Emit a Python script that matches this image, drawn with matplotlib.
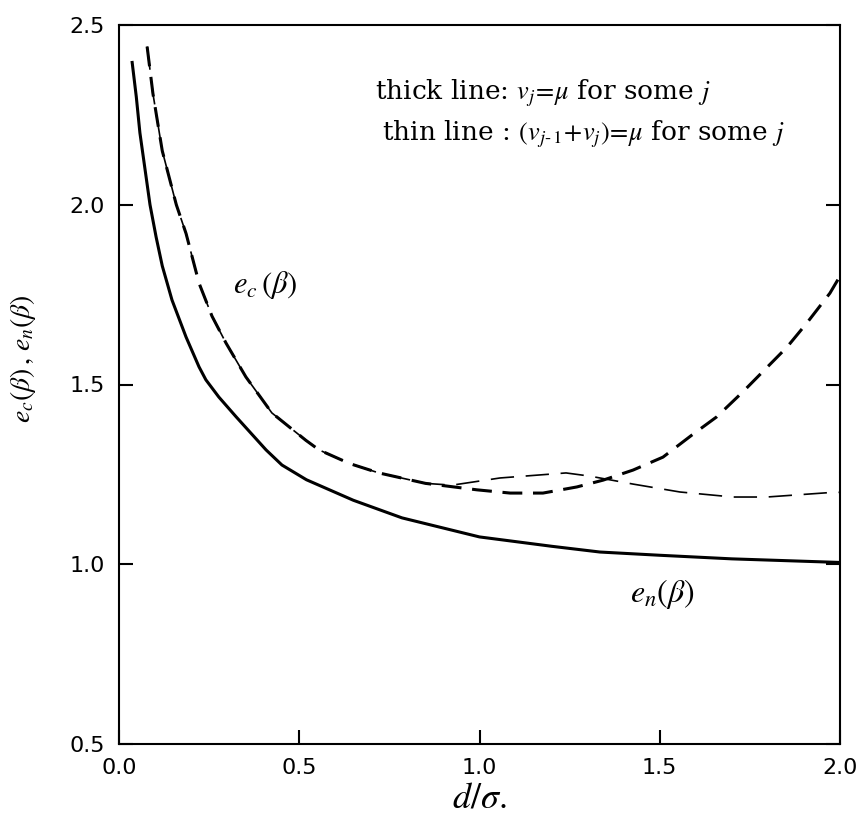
import numpy as np
import matplotlib
matplotlib.use("Agg")
import matplotlib.pyplot as plt

# ── data ──────────────────────────────────────────────────────────────
# e_n(beta): solid curve
en_x = [0.036, 0.048, 0.058, 0.072, 0.086, 0.103, 0.120, 0.147, 0.186, 0.222,
        0.241, 0.277, 0.325, 0.408, 0.452, 0.520, 0.650, 0.785, 1.000, 1.200,
        1.334, 1.500, 1.700, 1.850, 2.000]
en_y = [2.40, 2.30, 2.20, 2.10, 2.00, 1.91, 1.83, 1.735, 1.632, 1.549,
        1.513, 1.465, 1.41, 1.318, 1.276, 1.235, 1.178, 1.129, 1.076, 1.050,
        1.034, 1.025, 1.015, 1.010, 1.005]

# e_c(beta): both dashed curves share the left branch
ec_x_common = [0.078, 0.094, 0.120, 0.159, 0.186, 0.222, 0.258, 0.297, 0.352,
               0.424, 0.518, 0.555, 0.640, 0.721, 0.850]
ec_y_common = [2.44, 2.31, 2.15, 2.00, 1.92, 1.782, 1.69, 1.615, 1.521,
               1.421, 1.345, 1.318, 1.28, 1.254, 1.225]

# thick dashed: v_j = mu for some j
thick_x = [0.993, 1.085, 1.176, 1.270, 1.343, 1.426, 1.509, 1.590, 1.658,
           1.731, 1.853, 1.908, 1.972, 1.995]
thick_y = [1.207, 1.198, 1.198, 1.215, 1.234, 1.262, 1.298, 1.360, 1.410,
           1.480, 1.604, 1.671, 1.754, 1.793]

# thin dashed: (v_{j-1} + v_j) = mu for some j
thin_x = [0.924, 1.057, 1.240, 1.307, 1.426, 1.556, 1.703, 1.797, 1.980, 2.000]
thin_y = [1.220, 1.240, 1.254, 1.245, 1.223, 1.201, 1.187, 1.187, 1.200, 1.200]

x_ticks = [0.0, 0.5, 1.0, 1.5, 2.0]
y_ticks = [0.5, 1.0, 1.5, 2.0, 2.5]

# ── figure ────────────────────────────────────────────────────────────
plt.rcParams["mathtext.fontset"] = "stix"

fig = plt.figure(figsize=(8.6, 8.27), dpi=100)
ax = fig.add_axes([119 / 860, 83 / 827, 721 / 860, 719 / 827])

ax.plot(en_x, en_y, color="black", lw=2.2, solid_capstyle="butt")
ax.plot(ec_x_common + thick_x, ec_y_common + thick_y, color="black", lw=2.2,
        dashes=(6.5, 3.5))
ax.plot(ec_x_common + thin_x, ec_y_common + thin_y, color="black", lw=1.2,
        dashes=(14, 7))

ax.set_xlim(0.0, 2.0)
ax.set_ylim(0.5, 2.5)
ax.set_xticks(x_ticks)
ax.set_yticks(y_ticks)
ax.set_xticklabels([f"{v:.1f}" for v in x_ticks])
ax.set_yticklabels([f"{v:.1f}" for v in y_ticks])
ax.tick_params(direction="in", length=10, width=1.5, labelsize=16,
               right=True, top=False, pad=10)
for s in ax.spines.values():
    s.set_linewidth(1.5)

serif = "DejaVu Serif"
ax.set_xlabel(r"$d/\sigma.$", fontsize=26, labelpad=2)
ax.set_ylabel(r"$e_c(\beta)\,,\,e_n(\beta)$", fontsize=20)
ax.yaxis.set_label_coords(-0.113, 0.536)

ax.text(0.316, 1.777, r"$e_c\,(\beta)$", fontsize=22, va="center", ha="left")
ax.text(1.418, 0.917, r"$e_n(\beta)$", fontsize=23, va="center", ha="left")

ax.text(0.355, 0.896, r"thick line: $v_j\!=\!\mu$ for some $j$",
        transform=ax.transAxes, fontsize=19, family=serif, ha="left",
        va="baseline")
ax.text(0.365, 0.840, r"thin line : $(v_{j\text{-}\,1}\!+\!v_j)\!=\!\mu$ for some $j$",
        transform=ax.transAxes, fontsize=19, family=serif, ha="left",
        va="baseline")

fig.savefig("out.png", dpi=100)
